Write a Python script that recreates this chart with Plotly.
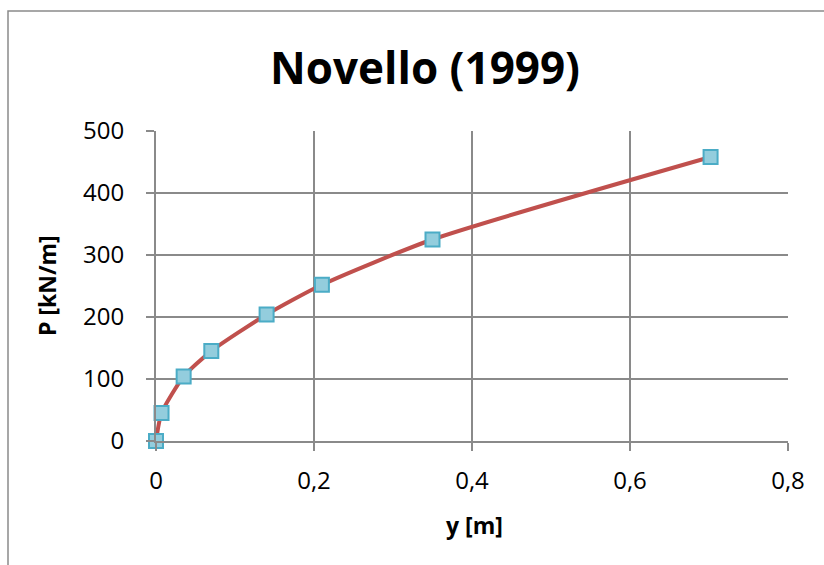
import plotly.graph_objects as go

# Load-displacement curve, Novello (1999)
y_m = [0.0, 0.007, 0.035, 0.07, 0.14, 0.21, 0.35, 0.702]
p_kn = [0, 45, 104, 145, 204, 252, 325, 458]

x_ticks = [0, 0.2, 0.4, 0.6, 0.8]
x_tick_text = ["0", "0,2", "0,4", "0,6", "0,8"]
y_ticks = [0, 100, 200, 300, 400, 500]

W, H = 824, 565
L, R, T, B = 156, 36, 131, 124
pw, ph = W - L - R, H - T - B

def px_x(px):
    return (px - L) / pw

def px_y(py):
    return (H - B - py) / ph

grid = "#8a8a8a"
font_family = "Open Sans, Liberation Sans, sans-serif"

fig = go.Figure()
fig.add_trace(go.Scatter(
    x=y_m, y=p_kn, mode="lines+markers", cliponaxis=False,
    line=dict(color="#C0504D", width=4, shape="spline", smoothing=0.6),
    marker=dict(symbol="square", size=14, color="#93CDDD",
                line=dict(color="#4BACC6", width=2)),
    showlegend=False,
))

fig.update_layout(
    width=W, height=H,
    margin=dict(l=L, r=R, t=T, b=B),
    paper_bgcolor="white", plot_bgcolor="white",
    font=dict(family=font_family, color="black"),
    xaxis=dict(range=[0, 0.8], tickvals=x_ticks, ticktext=x_tick_text,
               showgrid=True, gridcolor=grid, gridwidth=2,
               showline=True, linecolor=grid, linewidth=2,
               ticks="outside", ticklen=8, tickwidth=2, tickcolor=grid,
               zeroline=False, tickfont=dict(size=24), ticklabelstandoff=9),
    yaxis=dict(range=[0, 500], tickvals=y_ticks,
               showgrid=True, gridcolor=grid, gridwidth=2,
               showline=True, linecolor=grid, linewidth=2,
               ticks="outside", ticklen=8, tickwidth=2, tickcolor=grid,
               zeroline=False, tickfont=dict(size=24), ticklabelstandoff=17),
    shapes=[dict(type="rect", xref="paper", yref="paper",
                 x0=px_x(8), x1=px_x(W + 20), y0=px_y(H + 20), y1=px_y(11),
                 line=dict(color="#8a8a8a", width=1.5), layer="below")],
    annotations=[
        dict(text="<b>Novello (1999)</b>", xref="paper", yref="paper",
             x=px_x(425), y=px_y(67), showarrow=False,
             font=dict(size=44, family=font_family), xanchor="center", yanchor="middle"),
        dict(text="<b>y [m]</b>", xref="paper", yref="paper",
             x=px_x(474), y=px_y(525), showarrow=False,
             font=dict(size=23, family=font_family), xanchor="center", yanchor="middle"),
        dict(text="<b>P [kN/m]</b>", xref="paper", yref="paper",
             x=px_x(47), y=px_y(286), showarrow=False, textangle=-90,
             font=dict(size=23, family=font_family), xanchor="center", yanchor="middle"),
    ],
)

fig.write_html("out.html")
